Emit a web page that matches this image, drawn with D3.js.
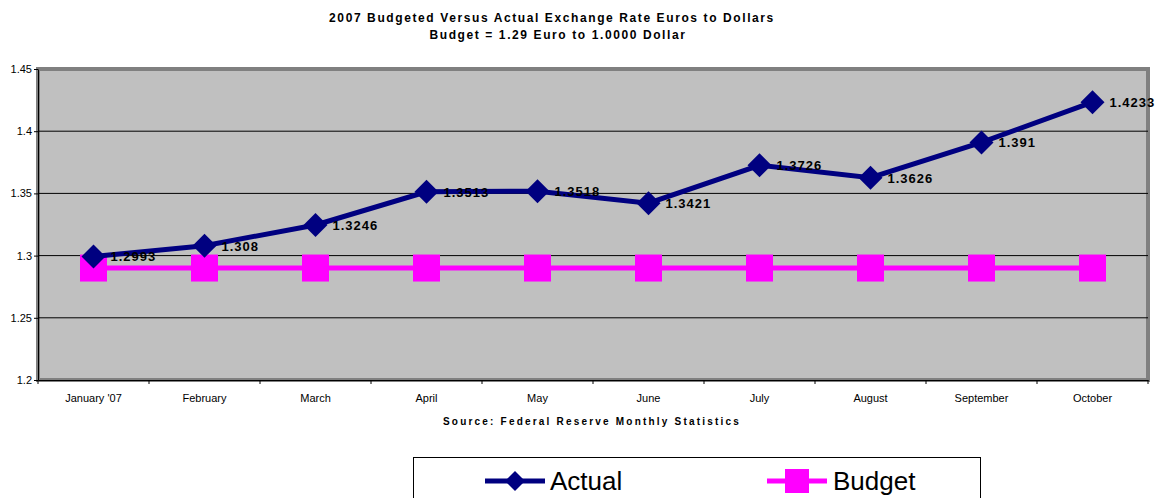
<html>
<head>
<script src="https://d3js.org/d3.v7.min.js"></script>
<style>
  body { margin: 0; background: #fff; }
  text { font-family: Arial, "Liberation Sans", sans-serif; }
</style>
</head>
<body>
<svg id="chart" width="1165" height="498"></svg>
<script>
const months = ["January '07", "February", "March", "April", "May", "June", "July", "August", "September", "October"];
const actual = [1.2993, 1.308, 1.3246, 1.3513, 1.3518, 1.3421, 1.3726, 1.3626, 1.391, 1.4233];
const actualLabels = ["1.2993", "1.308", "1.3246", "1.3513", "1.3518", "1.3421", "1.3726", "1.3626", "1.391", "1.4233"];
const budget = [1.29, 1.29, 1.29, 1.29, 1.29, 1.29, 1.29, 1.29, 1.29, 1.29];
const yTicks = [1.2, 1.25, 1.3, 1.35, 1.4, 1.45];

const svg = d3.select("#chart");
const plotL = 38, plotR = 1148, plotT = 69, plotB = 380;

const x = d3.scaleBand().domain(months).range([plotL, plotR]);
const y = d3.scaleLinear().domain([1.2, 1.45]).range([plotB, plotT]);
const cx = m => x(m) + x.bandwidth() / 2;

// titles
svg.append("text").attr("x", 552).attr("y", 22).attr("text-anchor", "middle")
  .style("font-size", "12px").style("font-weight", "bold").style("letter-spacing", "1.6px")
  .text("2007 Budgeted Versus Actual Exchange Rate Euros to Dollars");
svg.append("text").attr("x", 558).attr("y", 39).attr("text-anchor", "middle")
  .style("font-size", "12px").style("font-weight", "bold").style("letter-spacing", "1.6px")
  .text("Budget = 1.29 Euro to 1.0000 Dollar");

// plot area
svg.append("rect").attr("x", plotL).attr("y", plotT).attr("width", plotR - plotL).attr("height", plotB - plotT)
  .attr("fill", "#c0c0c0").attr("stroke", "#808080").attr("stroke-width", 4);

// grid
svg.append("g").selectAll("line").data(yTicks.slice(1, -1)).join("line")
  .attr("x1", plotL).attr("x2", plotR).attr("y1", d => y(d)).attr("y2", d => y(d))
  .attr("stroke", "#000").attr("stroke-width", 1);

// y axis
const yAxis = svg.append("g").attr("transform", `translate(${plotL},0)`)
  .call(d3.axisLeft(y).tickValues(yTicks).tickSize(4).tickSizeOuter(0).tickFormat(d => String(+d.toFixed(2))));
yAxis.selectAll("text").style("font-size", "11px").attr("x", -6).attr("fill", "#000");
yAxis.select(".domain").attr("stroke", "#000");

// x axis
const xAxis = svg.append("g").attr("transform", `translate(0,${plotB})`)
  .call(d3.axisBottom(x).tickSize(0).tickSizeOuter(0));
xAxis.select(".domain").attr("stroke", "#000");
xAxis.selectAll("text").style("font-size", "11px").attr("y", 14).attr("fill", "#000");
svg.append("g").selectAll("line").data(months.concat([null])).join("line")
  .attr("x1", (d, i) => plotL + i * x.bandwidth()).attr("x2", (d, i) => plotL + i * x.bandwidth())
  .attr("y1", plotB).attr("y2", plotB + 4).attr("stroke", "#000");

// budget series
const line = d3.line().x((d, i) => cx(months[i])).y(d => y(d));
svg.append("path").datum(budget).attr("d", line).attr("fill", "none")
  .attr("stroke", "#ff00ff").attr("stroke-width", 5);
svg.append("g").selectAll("rect").data(budget).join("rect")
  .attr("x", (d, i) => cx(months[i]) - 13.5).attr("y", d => y(d) - 13.5)
  .attr("width", 27).attr("height", 27).attr("fill", "#ff00ff");

// actual series
svg.append("path").datum(actual).attr("d", line).attr("fill", "none")
  .attr("stroke", "#000080").attr("stroke-width", 5);
const diamond = (px, py, r) => `M${px},${py - r}L${px + r},${py}L${px},${py + r}L${px - r},${py}Z`;
svg.append("g").selectAll("path").data(actual).join("path")
  .attr("d", (d, i) => diamond(cx(months[i]), y(d), 12)).attr("fill", "#000080");

svg.append("g").selectAll("text").data(actual).join("text")
  .attr("x", (d, i) => cx(months[i]) + 17).attr("y", d => y(d) + 5)
  .style("font-size", "13px").style("font-weight", "bold").style("letter-spacing", "1px")
  .attr("fill", "#000").text((d, i) => actualLabels[i]);

// source
svg.append("text").attr("x", 592).attr("y", 425).attr("text-anchor", "middle")
  .style("font-size", "10px").style("font-weight", "bold").style("letter-spacing", "2.2px")
  .text("Source: Federal Reserve Monthly Statistics");

// legend
svg.append("rect").attr("x", 413.5).attr("y", 457.5).attr("width", 567).attr("height", 60)
  .attr("fill", "#fff").attr("stroke", "#000");
const lg = svg.append("g");
lg.append("line").attr("x1", 485).attr("x2", 545).attr("y1", 481).attr("y2", 481)
  .attr("stroke", "#000080").attr("stroke-width", 5);
lg.append("path").attr("d", diamond(515, 481, 10)).attr("fill", "#000080");
lg.append("text").attr("x", 550).attr("y", 490).style("font-size", "26px").text("Actual");
lg.append("line").attr("x1", 767).attr("x2", 827).attr("y1", 481).attr("y2", 481)
  .attr("stroke", "#ff00ff").attr("stroke-width", 5);
lg.append("rect").attr("x", 785).attr("y", 469).attr("width", 24).attr("height", 24).attr("fill", "#ff00ff");
lg.append("text").attr("x", 833).attr("y", 490).style("font-size", "26px").text("Budget");
</script>
</body>
</html>
